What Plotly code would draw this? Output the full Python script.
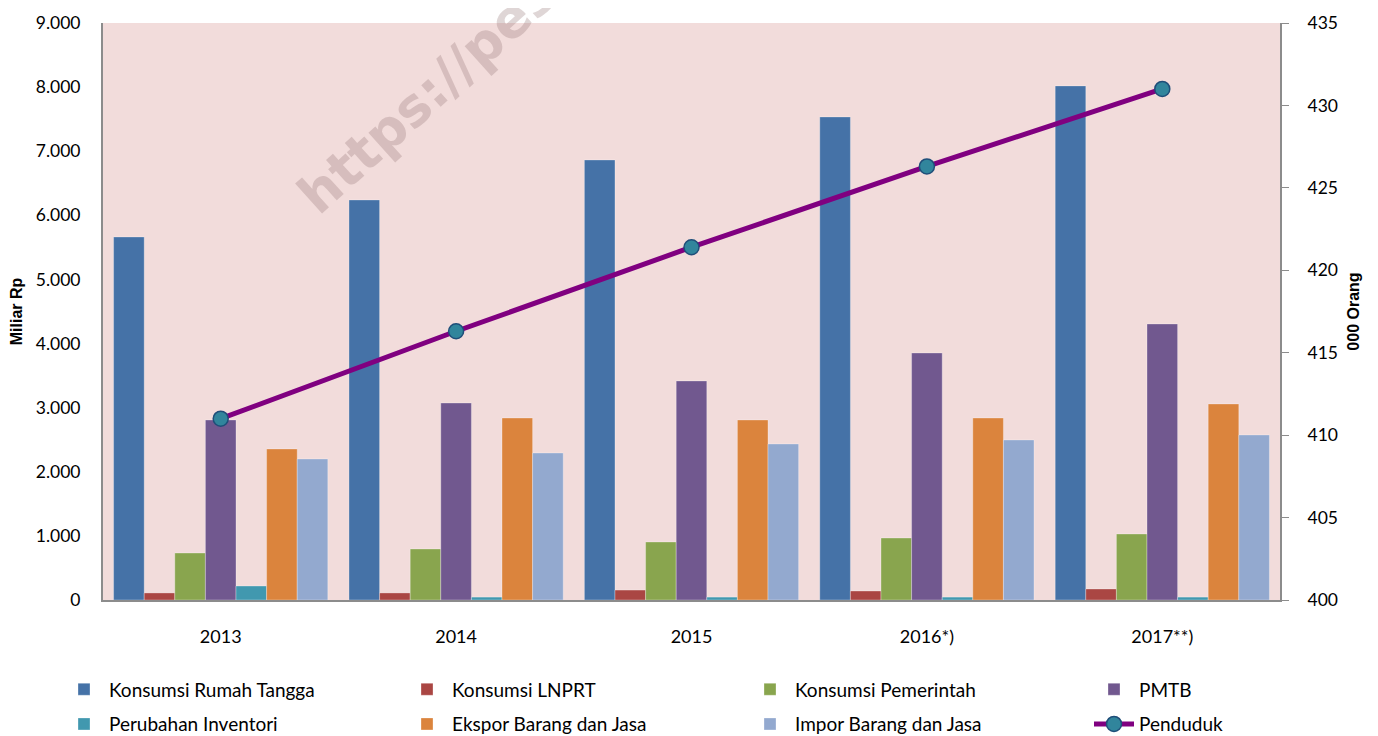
import plotly.graph_objects as go

years = ["2013", "2014", "2015", "2016*)", "2017**)"]
konsumsi_rt = [5663, 6240, 6864, 7535, 8019]
konsumsi_lnprt = [110, 110, 155, 140, 172]
konsumsi_pem = [733, 796, 905, 967, 1030]
pmtb = [2808, 3073, 3417, 3853, 4306]
inventori = [218, 45, 45, 45, 45]
ekspor = [2356, 2839, 2808, 2839, 3058]
impor = [2200, 2293, 2434, 2496, 2574]
penduduk = [411.0, 416.3, 421.4, 426.3, 431.0]

# (name, values, colour, legend column)
series = [
    ("Konsumsi Rumah Tangga", konsumsi_rt, "#4572A7", "legend"),
    ("Konsumsi LNPRT", konsumsi_lnprt, "#AA4643", "legend2"),
    ("Konsumsi Pemerintah", konsumsi_pem, "#89A54E", "legend3"),
    ("PMTB", pmtb, "#71588F", "legend4"),
    ("Perubahan Inventori", inventori, "#4198AF", "legend"),
    ("Ekspor Barang dan Jasa", ekspor, "#DB843D", "legend2"),
    ("Impor Barang dan Jasa", impor, "#93A9CF", "legend3"),
]

FONT = "Lato, sans-serif"

fig = go.Figure()
for name, vals, col, lg in series:
    fig.add_trace(go.Bar(x=years, y=vals, name=name, legend=lg, legendgroup=name,
                         marker=dict(color=col, line=dict(width=0.6, color="rgba(255,255,255,0.5)"))))

fig.add_trace(go.Scatter(x=years, y=penduduk, name="Penduduk", yaxis="y2", legend="legend4",
                         legendgroup="Penduduk", mode="lines+markers",
                         line=dict(color="#800080", width=5),
                         marker=dict(size=15, color="#31859C", line=dict(color="#1F4E79", width=1.5))))

fig.add_annotation(text="<b>https://pes</b>", xref="paper", yref="paper", x=0.275, y=0.876,
                   xanchor="center", yanchor="middle",
                   showarrow=False, textangle=-42,
                   font=dict(family="DejaVu Sans, sans-serif", size=53, color="rgba(150,120,120,0.3)"))

legend_common = dict(orientation="v", yanchor="top", xanchor="left", tracegroupgap=7,
                     font=dict(family=FONT, size=19), itemwidth=40, bgcolor="rgba(0,0,0,0)")

col_px = [72, 415, 758, 1102]
col_x = [(p - 13 - 103) / 1177 for p in col_px]

fig.update_layout(
    width=1378, height=736,
    margin=dict(l=95, r=106, t=15, b=144, autoexpand=False),
    paper_bgcolor="white", plot_bgcolor="#F2DCDB",
    barmode="group", bargap=0.09, bargroupgap=0,
    font=dict(family=FONT, size=17, color="black"),
    xaxis=dict(showline=True, linecolor="#8c8c8c", linewidth=2, ticks="", ticklabelstandoff=19,
               tickfont=dict(family=FONT, size=18)),
    yaxis=dict(range=[0, 9000], dtick=1000, tickformat=",.0f", separatethousands=True,
               showgrid=False, showline=True, linecolor="#8c8c8c", linewidth=2, zeroline=False,
               ticks="", ticklabelstandoff=17, tickfont=dict(family=FONT, size=17.5),
               title=dict(text="<b>Miliar Rp</b>", font=dict(family="Liberation Sans, Arial, sans-serif", size=16), standoff=9)),
    yaxis2=dict(range=[400, 435], dtick=5, overlaying="y", side="right",
                showgrid=False, showline=True, linecolor="#8c8c8c", linewidth=2, zeroline=False,
                ticks="outside", ticklen=7, tickcolor="#8c8c8c", ticklabelstandoff=15,
                tickfont=dict(family=FONT, size=17.5),
                title=dict(text="<b>000 Orang</b>", font=dict(family="Liberation Sans, Arial, sans-serif", size=16), standoff=11)),
    separators=",.",
    legend=dict(x=col_x[0], y=-0.122, **legend_common),
    legend2=dict(x=col_x[1], y=-0.122, **legend_common),
    legend3=dict(x=col_x[2], y=-0.122, **legend_common),
    legend4=dict(x=col_x[3], y=-0.122, **legend_common),
    showlegend=True,
)

fig.write_html("out.html")
